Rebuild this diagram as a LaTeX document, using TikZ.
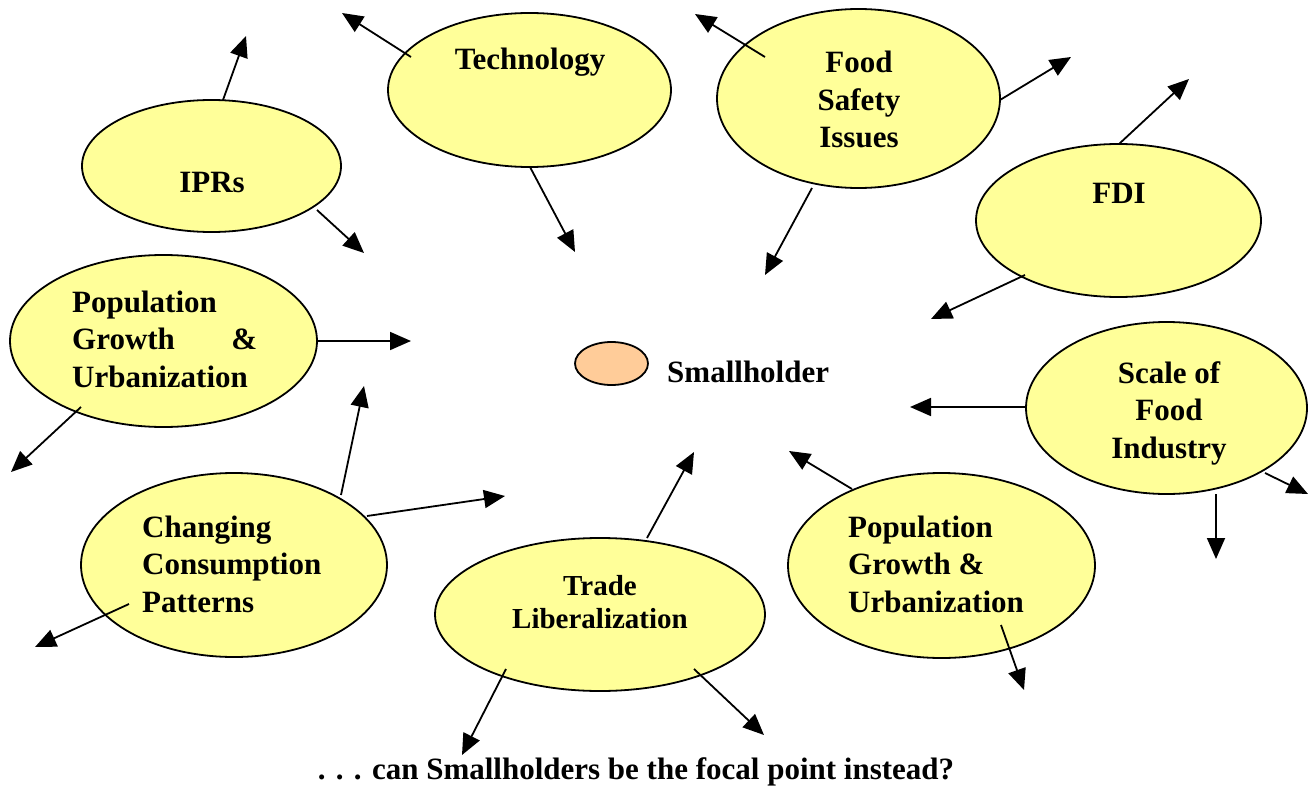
\documentclass[tikz,border=0pt]{standalone}
\usepackage{fontspec}
\setmainfont{Liberation Serif}
\usetikzlibrary{arrows.meta,calc,shapes.geometric}
\definecolor{bubbleyellow}{HTML}{FFFF99}
\definecolor{peach}{HTML}{FFCC99}
\newcommand\clines[1]{\vtop{\halign{\hfil##\hfil\cr#1\crcr}}}
\newcommand\llines[1]{\vtop{\halign{##\hfil\cr#1\crcr}}}
\tikzset{
  bubble/.style={ellipse, draw=black, line width=1.8pt, fill=bubbleyellow, inner sep=0pt, outer sep=0pt},
  lbl/.style={font=\fontsize{31}{37.5}\selectfont\bfseries, inner sep=0pt},
  smalllbl/.style={font=\fontsize{29}{33}\selectfont\bfseries, inner sep=0pt},
  arr/.style={line width=1.8pt, -{Triangle[length=21pt,width=18pt]}},
}
\begin{document}
\begin{tikzpicture}[x=1pt,y=-1pt]
\useasboundingbox (0,0) rectangle (1312,789);
% ellipses
\node[bubble, minimum width=283pt, minimum height=154pt] (tech) at (529.5,90) {};
\node[bubble, minimum width=283pt, minimum height=179pt] (food) at (858.5,98.5) {};
\node[bubble, minimum width=259pt, minimum height=132pt] (ipr) at (211.5,166) {};
\node[bubble, minimum width=285pt, minimum height=153pt] (fdi) at (1118.5,220.5) {};
\node[bubble, minimum width=307pt, minimum height=172pt] (popL) at (163.5,341) {};
\node[ellipse, draw=black, line width=1.8pt, fill=peach, inner sep=0pt, minimum width=73pt, minimum height=43pt] (small) at (611.5,363.5) {};
\node[bubble, minimum width=281pt, minimum height=172pt] (scale) at (1166.5,408) {};
\node[bubble, minimum width=306pt, minimum height=184pt] (chg) at (234,565) {};
\node[bubble, minimum width=330pt, minimum height=153pt] (trade) at (600,614.5) {};
\node[bubble, minimum width=307pt, minimum height=185pt] (popR) at (941.5,565.5) {};
% labels
\node[lbl, anchor=base] (techT) at (530,70) {Technology};
\node[lbl, anchor=base] (foodT) at (859,73) {\clines{Food\cr Safety\cr Issues}};
\node[lbl, anchor=base] (iprT) at (212,193) {IPRs};
\node[lbl, anchor=base] (fdiT) at (1119,203) {FDI};
\node[lbl, anchor=base west] (popLT) at (72,312) {\llines{Population\cr \hbox to 185pt{Growth\hfill\&}\cr Urbanization}};
\node[lbl, anchor=base west] (smallT) at (667,382) {Smallholder};
\node[lbl, anchor=base] (scaleT) at (1169,383) {\clines{Scale of\cr Food\cr Industry}};
\node[lbl, anchor=base west] (chgT) at (142,537) {\llines{Changing\cr Consumption\cr Patterns}};
\node[smalllbl, anchor=base] (tradeT) at (600,595) {\clines{Trade\cr Liberalization}};
\node[lbl, anchor=base west] (popRT) at (848,537) {\llines{Population\cr Growth \&\cr Urbanization}};
\node[lbl, anchor=base] (question) at (636,779) {. . . can Smallholders be the focal point instead?};
% arrow tips
\coordinate (t1) at (342,13);
\coordinate (t2) at (575,252);
\coordinate (t3) at (246,36);
\coordinate (t4) at (364,253);
\coordinate (t5) at (695,14);
\coordinate (t6) at (1071,57);
\coordinate (t7) at (765,275);
\coordinate (t8) at (1189,79);
\coordinate (t9) at (931,319);
\coordinate (t10) at (411,341);
\coordinate (t11) at (11,472);
\coordinate (t12) at (910,407);
\coordinate (t13) at (1308,494);
\coordinate (t14) at (1216,559);
\coordinate (t15) at (364,386);
\coordinate (t16) at (505,496);
\coordinate (t17) at (35,647);
\coordinate (t18) at (694,452);
\coordinate (t19) at (462,755);
\coordinate (t20) at (764,735);
\coordinate (t21) at (789,451);
\coordinate (t22) at (1024,690);
% arrows
\draw[arr] ($(tech)+(-118.5,-33)$) -- (t1);
\draw[arr] ($(tech)+(0.5,77)$) -- (t2);
\draw[arr] ($(ipr)+(11.5,-66)$) -- (t3);
\draw[arr] ($(ipr)+(105.5,44)$) -- (t4);
\draw[arr] ($(food)+(-93.5,-41.5)$) -- (t5);
\draw[arr] ($(food)+(141.5,1.5)$) -- (t6);
\draw[arr] ($(food)+(-46.5,89.5)$) -- (t7);
\draw[arr] ($(fdi)+(0.5,-76.5)$) -- (t8);
\draw[arr] ($(fdi)+(-93.5,54.5)$) -- (t9);
\draw[arr] ($(popL)+(153.5,0)$) -- (t10);
\draw[arr] ($(popL)+(-82.5,66)$) -- (t11);
\draw[arr] ($(scale)+(-140.5,-1)$) -- (t12);
\draw[arr] ($(scale)+(98.5,65)$) -- (t13);
\draw[arr] ($(scale)+(49.5,86)$) -- (t14);
\draw[arr] ($(chg)+(107,-70)$) -- (t15);
\draw[arr] ($(chg)+(133,-49)$) -- (t16);
\draw[arr] ($(chg)+(-105,39)$) -- (t17);
\draw[arr] ($(trade)+(47,-76.5)$) -- (t18);
\draw[arr] ($(trade)+(-94,54.5)$) -- (t19);
\draw[arr] ($(trade)+(94,54.5)$) -- (t20);
\draw[arr] ($(popR)+(-89.5,-76.5)$) -- (t21);
\draw[arr] ($(popR)+(59.5,59.5)$) -- (t22);
\end{tikzpicture}
\end{document}
